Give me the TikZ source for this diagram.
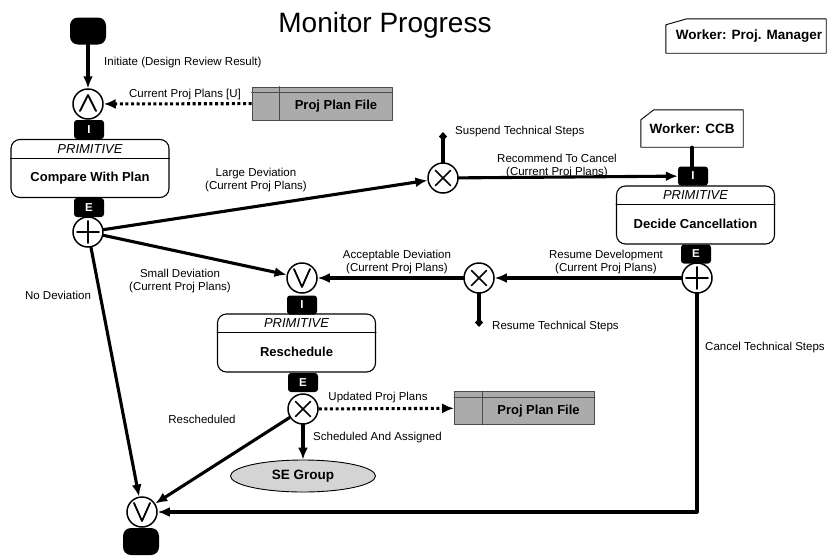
\documentclass[tikz,border=0pt]{standalone}
\usepackage{fontspec}
\setmainfont{Liberation Sans}
\usetikzlibrary{arrows.meta,shapes.geometric}

\tikzset{
  flow/.style={line width=3.1pt,-{Latex[length=12pt,width=10pt]}},
  dotflow/.style={line width=3.1pt,dash pattern=on 3pt off 2.6pt,line cap=butt,-{Latex[length=12pt,width=10pt]}},
  tipflow/.style={line width=3.1pt,-{Diamond[length=9pt,width=8pt]}},
  lbl/.style={font=\fontsize{11.5}{13}\selectfont,inner sep=0pt,align=center},
  gate/.style={circle,draw,line width=1.5pt,fill=white,minimum size=30pt,inner sep=0pt},
  andgate/.style={gate,path picture={\draw[line width=1.8pt]
      ([shift={(-8pt,-7pt)}]path picture bounding box.center) --
      ([shift={(0pt,9pt)}]path picture bounding box.center) --
      ([shift={(8pt,-7pt)}]path picture bounding box.center);}},
  orgate/.style={gate,path picture={\draw[line width=1.8pt]
      ([shift={(-8pt,9pt)}]path picture bounding box.center) --
      ([shift={(0pt,-9pt)}]path picture bounding box.center) --
      ([shift={(8pt,9pt)}]path picture bounding box.center);}},
  xorgate/.style={gate,path picture={\draw[line width=1.6pt]
      ([shift={(-7.5pt,-7.5pt)}]path picture bounding box.center) --
      ([shift={(7.5pt,7.5pt)}]path picture bounding box.center)
      ([shift={(-7.5pt,7.5pt)}]path picture bounding box.center) --
      ([shift={(7.5pt,-7.5pt)}]path picture bounding box.center);}},
  plusgate/.style={gate,path picture={\draw[line width=1.6pt]
      ([shift={(-11pt,0pt)}]path picture bounding box.center) --
      ([shift={(11pt,0pt)}]path picture bounding box.center)
      ([shift={(0pt,-11pt)}]path picture bounding box.center) --
      ([shift={(0pt,11pt)}]path picture bounding box.center);}},
  tab/.style={fill=black,rounded corners=3pt,minimum width=30pt,minimum height=19pt,inner sep=0pt,
    text=white,font=\bfseries\fontsize{11.5}{11.5}\selectfont},
  term/.style={fill=black,rounded corners=8pt,minimum width=36pt,minimum height=27pt,inner sep=0pt},
  procbox/.style={draw,line width=1.1pt,rounded corners=9pt,minimum width=158pt,minimum height=58pt,inner sep=0pt},
  primtxt/.style={font=\itshape\fontsize{13}{13}\selectfont,inner sep=0pt},
  boxtxt/.style={font=\bfseries\fontsize{13}{13}\selectfont,inner sep=0pt},
  filebox/.style={draw=black!70,line width=0.8pt,fill=black!33,minimum width=140pt,minimum height=33pt,inner sep=0pt},
  workbox/.style={minimum height=34pt,inner sep=0pt,font=\bfseries\fontsize{13.5}{13.5}\selectfont}
}

\begin{document}
\begin{tikzpicture}[x=1pt,y=-1pt,line cap=round,line join=round]
  \useasboundingbox (0,0) rectangle (829,555);
  \node[font=\fontsize{28}{28}\selectfont,anchor=base] (title) at (385,32) {Monitor Progress};

  % worker boxes
  \node[workbox,minimum width=160pt] (wpm) at (746,36) {\hspace{6pt}Worker: Proj. Manager};
  \draw[line width=0.9pt] (wpm.south west) -- ([yshift=-6pt]wpm.north west) -- ([xshift=21pt]wpm.north west)
    -- (wpm.north east) -- (wpm.south east) -- cycle;
  \node[workbox,minimum width=102pt,minimum height=37pt] (ccb) at (692,128.5) {Worker: CCB};
  \draw[line width=0.9pt] (ccb.south west) -- ([yshift=-10pt]ccb.north west) -- ([xshift=13pt]ccb.north west)
    -- (ccb.north east) -- (ccb.south east) -- cycle;

  % process boxes
  \node[procbox] (cmp) at (90,168.5) {};
  \draw[line width=0.8pt] ([yshift=-19pt]cmp.north west) -- ([yshift=-19pt]cmp.north east);
  \node[primtxt] (cmpP) at ([yshift=-10pt]cmp.north) {PRIMITIVE};
  \node[boxtxt] (cmpT) at ([yshift=-39pt]cmp.north) {Compare With Plan};
  \node[procbox] (dec) at (695.5,215) {};
  \draw[line width=0.8pt] ([yshift=-19pt]dec.north west) -- ([yshift=-19pt]dec.north east);
  \node[primtxt] (decP) at ([yshift=-10pt]dec.north) {PRIMITIVE};
  \node[boxtxt] (decT) at ([yshift=-38pt]dec.north) {Decide Cancellation};
  \node[procbox] (res) at (296.5,343) {};
  \draw[line width=0.8pt] ([yshift=-19pt]res.north west) -- ([yshift=-19pt]res.north east);
  \node[primtxt] (resP) at ([yshift=-10pt]res.north) {PRIMITIVE};
  \node[boxtxt] (resT) at ([yshift=-38pt]res.north) {Reschedule};

  % tabs
  \node[tab] (cmpI) at (89,129.5) {I};
  \node[tab] (cmpE) at (89,207.5) {E};
  \node[tab] (decI) at (693,176) {I};
  \node[tab] (decE) at (696,254) {E};
  \node[tab] (resI) at (302,305) {I};
  \node[tab] (resE) at (303,382.5) {E};

  % terminals
  \node[term] (start) at (88,31) {};
  \node[term] (stop) at (141,541.5) {};

  % junctions
  \node[andgate] (and1) at (88,104) {};
  \node[plusgate] (pl1) at (88,232) {};
  \node[xorgate] (x1) at (443,178) {};
  \node[plusgate] (pl2) at (697,278) {};
  \node[xorgate] (x2) at (479,278) {};
  \node[orgate] (v2) at (302,278) {};
  \node[xorgate] (xr) at (303,409) {};
  \node[orgate] (v3) at (142,512) {};

  % files and group
  \node[filebox] (ppf1) at (322,103.5) {};
  \draw[line width=0.8pt,black!70] ([xshift=28pt]ppf1.north west) -- ([xshift=28pt]ppf1.south west);
  \draw[line width=0.8pt,black!70] ([yshift=-6pt]ppf1.north west) -- ([yshift=-6pt]ppf1.north east);
  \node[boxtxt] (ppf1T) at ([xshift=14pt,yshift=-3pt]ppf1.center) {Proj Plan File};
  \node[filebox] (ppf2) at (524.5,408) {};
  \draw[line width=0.8pt,black!70] ([xshift=28pt]ppf2.north west) -- ([xshift=28pt]ppf2.south west);
  \draw[line width=0.8pt,black!70] ([yshift=-6pt]ppf2.north west) -- ([yshift=-6pt]ppf2.north east);
  \node[boxtxt] (ppf2T) at ([xshift=14pt,yshift=-3pt]ppf2.center) {Proj Plan File};
  \node[ellipse,draw,line width=0.9pt,fill=black!17,minimum width=145pt,minimum height=32pt,
    inner sep=0pt,font=\bfseries\fontsize{13.5}{13.5}\selectfont] (seg) at (303,476) {SE Group};

  \coordinate (susp) at (443,132);
  \coordinate (resm) at (479,327);

  % connectors
  \draw[flow] (start) -- (and1);
  \draw[dotflow] (ppf1) -- (and1);
  \draw[flow] (pl1) -- (x1);
  \draw[tipflow] (x1) -- (susp);
  \draw[flow] (x1) -- (decI);
  \draw[line width=3.1pt] (ccb.south) -- (ccb.south |- decI.north);
  \draw[flow] (pl2) -- (x2);
  \draw[tipflow] (x2) -- (resm);
  \draw[flow] (x2) -- (v2);
  \draw[flow] (pl1) -- (v2);
  \draw[flow] (pl1) -- (v3);
  \draw[dotflow] (xr) -- (ppf2);
  \draw[flow] (xr) -- (seg);
  \draw[flow] (xr) -- (v3);
  \draw[flow] (pl2) -- (pl2 |- v3) -- (v3);

  % labels
  \node[lbl,anchor=west] (lInit) at (104,63) {Initiate (Design Review Result)};
  \node[lbl] (lCur) at (185,95) {Current Proj Plans [U]};
  \node[lbl] (lLarge) at (256,180) {Large Deviation\\(Current Proj Plans)};
  \node[lbl,anchor=west] (lSusp) at (455,132) {Suspend Technical Steps};
  \node[lbl] (lRec) at (557,166) {Recommend To Cancel\\(Current Proj Plans)};
  \node[lbl] (lResD) at (606,262) {Resume Development\\(Current Proj Plans)};
  \node[lbl] (lAcc) at (397,262) {Acceptable Deviation\\(Current Proj Plans)};
  \node[lbl] (lSmall) at (180,281) {Small Deviation\\(Current Proj Plans)};
  \node[lbl] (lNo) at (58,295) {No Deviation};
  \node[lbl,anchor=west] (lResT) at (492,327) {Resume Technical Steps};
  \node[lbl,anchor=west] (lCan) at (705,348) {Cancel Technical Steps};
  \node[lbl] (lUpd) at (378,398) {Updated Proj Plans};
  \node[lbl,anchor=west] (lSch) at (313,438) {Scheduled And Assigned};
  \node[lbl] (lResch) at (202,419) {Rescheduled};
\end{tikzpicture}
\end{document}
